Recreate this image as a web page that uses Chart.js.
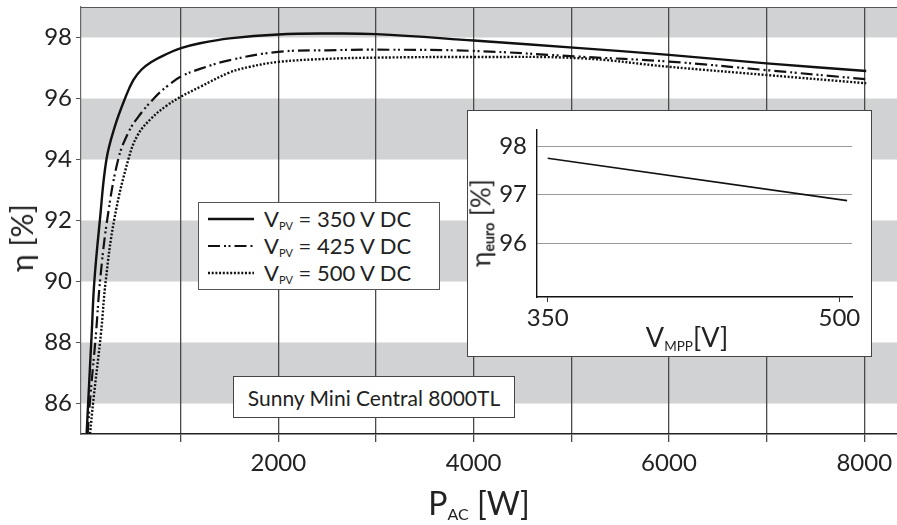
<!DOCTYPE html>
<html>
<head>
<meta charset="utf-8">
<script src="https://cdn.jsdelivr.net/npm/chart.js@4/dist/chart.umd.min.js"></script>
<style>
  html, body { margin:0; padding:0; background:#fff; }
  body { width:897px; height:525px; overflow:hidden; font-family: Lato, "DejaVu Sans", sans-serif; color:#222; }
  #wrap { position:relative; width:897px; height:525px; }
  #main { position:absolute; left:0; top:0; }
  .abs { position:absolute; white-space:nowrap; }
  #ytitle { left:21px; top:238px; font-size:30px; transform:translate(-50%,-50%) rotate(-90deg); }
  #xtitle { left:479px; top:503px; font-size:32px; transform:translate(-50%,-50%); }
  .sub { font-size:0.5em; vertical-align:-0.3em; }
  #legend { left:198px; top:202px; width:242px; height:88px; box-sizing:border-box; border:1px solid #555; background:#fff; }
  .lrow { position:absolute; left:9px; height:26px; display:flex; align-items:center; font-size:22px; }
  .lrow svg { width:46px; height:10px; margin-right:10px; }
  #namebox { left:233px; top:376px; width:282px; height:42px; box-sizing:border-box; border:1px solid #444; background:#fff; font-size:21px; display:flex; align-items:center; justify-content:center; }
  #inset { left:467px; top:110px; width:405px; height:247px; box-sizing:border-box; border:1px solid #444; background:#fff; }
  #ic { position:absolute; left:0; top:0; }
  #iytitle { left:13px; top:112px; font-size:26px; transform:translate(-50%,-50%) rotate(-90deg); }
  #iytitle .sub { font-size:0.55em; font-weight:bold; }
  #ixtitle { left:219px; top:226px; font-size:27px; transform:translate(-50%,-50%); }
</style>
</head>
<body>
<div id="wrap">
  <canvas id="main" width="897" height="525"></canvas>
  <div id="ytitle" class="abs">η [%]</div>
  <div id="xtitle" class="abs">P<span class="sub">AC</span> [W]</div>
  <div id="legend" class="abs"></div>
  <div id="namebox" class="abs">Sunny Mini Central 8000TL</div>
  <div id="inset" class="abs">
    <canvas id="ic" width="403" height="245"></canvas>
    <div id="iytitle" class="abs">η<span class="sub">euro</span> [%]</div>
    <div id="ixtitle" class="abs">V<span class="sub">MPP</span>[V]</div>
  </div>
</div>
<script>
// ---------- data ----------
const seriesNames = ['350 V DC', '425 V DC', '500 V DC'];

const power350 = [37, 54, 89, 116, 174, 240, 328, 430, 515, 600, 700, 850, 1003, 1198, 1500, 2000, 2500, 3000, 4000, 5090, 6000, 7000, 8020];
const eta350   = [85.0, 86.1, 88.3, 90.0, 92.05, 94.0, 95.1, 96.0, 96.6, 96.95, 97.2, 97.45, 97.65, 97.81, 97.97, 98.1, 98.13, 98.11, 97.9, 97.65, 97.43, 97.15, 96.9];

const power425 = [48, 72, 133, 174, 249, 360, 461, 566, 737, 857, 1003, 1198, 1505, 2000, 2500, 3000, 4000, 5090, 6000, 7000, 8020];
const eta425   = [85.0, 86.1, 88.3, 90.0, 92.05, 94.0, 94.86, 95.4, 96.04, 96.39, 96.72, 96.97, 97.26, 97.53, 97.58, 97.6, 97.56, 97.37, 97.21, 96.93, 96.63];

const power500 = [72, 106, 184, 232, 321, 464, 560, 700, 850, 1003, 1198, 1500, 1710, 2000, 2500, 3000, 4000, 5090, 6000, 7000, 8020];
const eta500   = [85.0, 86.1, 88.3, 90.0, 92.05, 94.0, 94.8, 95.35, 95.75, 96.06, 96.38, 96.85, 97.04, 97.2, 97.3, 97.34, 97.36, 97.32, 97.04, 96.77, 96.5];

const grayBands = [[86, 88], [90, 92], [94, 96], [98, 99]];
const xGridValues = [1000, 2000, 3000, 4000, 5000, 6000, 7000, 8000];
const xTickLabels = ['2000', '4000', '6000', '8000'];
const yTickValues = [86, 88, 90, 92, 94, 96, 98];

const insetVoltage = [350, 504];
const insetEtaEuro = [97.75, 96.88];
const insetXTicks = [350, 500];
const insetYTicks = [96, 97, 98];

// ---------- helpers ----------
const FONT = 'Lato, "DejaVu Sans", sans-serif';
const pts = (xs, ys) => xs.map((x, i) => ({x, y: ys[i]}));
const lineStyles = [
  {borderDash: [], borderWidth: 2.4},
  {borderDash: [12, 4, 2, 2.5, 2, 4], borderWidth: 2.2},
  {borderDash: [2, 1.7], borderWidth: 2.4}
];

// legend
const legend = document.getElementById('legend');
seriesNames.forEach((name, i) => {
  const row = document.createElement('div');
  row.className = 'lrow';
  row.style.top = (3 + i * 27) + 'px';
  const dash = lineStyles[i].borderDash.join(' ');
  row.innerHTML = '<svg viewBox="0 0 46 10"><line x1="0" y1="5" x2="46" y2="5" stroke="#111" stroke-width="' +
    lineStyles[i].borderWidth + '"' + (dash ? ' stroke-dasharray="' + dash + '"' : '') + '/></svg>' +
    '<span>V<span class="sub" style="font-size:0.5em">PV</span> = ' + name + '</span>';
  legend.appendChild(row);
});

const bandPlugin = {
  id: 'bands',
  beforeDraw(chart) {
    const {ctx, chartArea: a, scales: {y}} = chart;
    ctx.save();
    ctx.fillStyle = '#fff'; ctx.fillRect(0, 0, chart.width, chart.height);
    ctx.fillStyle = '#d1d2d4';
    grayBands.forEach(([lo, hi]) => {
      const y1 = y.getPixelForValue(Math.min(hi, y.max));
      const y2 = y.getPixelForValue(lo);
      ctx.fillRect(a.left, y1, a.right - a.left, y2 - y1);
    });
    ctx.restore();
  },
  afterDraw(chart) {
    const {ctx, chartArea: a} = chart;
    ctx.save();
    ctx.strokeStyle = '#555'; ctx.lineWidth = 1.2;
    ctx.beginPath(); ctx.moveTo(a.left, a.top + 0.5); ctx.lineTo(a.right, a.top + 0.5); ctx.stroke();
    ctx.restore();
  }
};

function noPad(s) { s.paddingLeft = 0; s.paddingRight = 0; s.paddingTop = 0; s.paddingBottom = 0; }

new Chart(document.getElementById('main'), {
  type: 'line',
  data: {
    datasets: [
      {data: pts(power350, eta350)},
      {data: pts(power425, eta425)},
      {data: pts(power500, eta500)}
    ].map((d, i) => Object.assign(d, {
      label: seriesNames[i],
      borderColor: '#111',
      borderWidth: lineStyles[i].borderWidth,
      borderDash: lineStyles[i].borderDash,
      pointRadius: 0,
      fill: false,
      tension: 0.4
    }))
  },
  options: {
    responsive: false,
    animation: false,
    devicePixelRatio: 1,
    layout: {padding: {top: 7, left: 0, right: 0, bottom: 0}},
    plugins: {legend: {display: false}, tooltip: {enabled: false}},
    scales: {
      x: {
        type: 'linear',
        min: -20.5, max: 8335,
        afterFit(s) { s.height = 91; noPad(s); },
        afterBuildTicks(s) { s.ticks = xGridValues.map(v => ({value: v})); },
        ticks: {
          autoSkip: false, maxRotation: 0,
          padding: 7, color: '#222', font: {family: FONT, size: 24},
          callback: v => xTickLabels.includes(String(v)) ? String(v) : ''
        },
        grid: {drawOnChartArea: true, tickLength: 8, lineWidth: 1.3, color: '#4a4a4a'},
        border: {display: true, color: '#222', width: 1.6}
      },
      y: {
        type: 'linear',
        min: 85, max: 99,
        afterFit(s) { s.width = 81; noPad(s); },
        afterBuildTicks(s) { s.ticks = yTickValues.map(v => ({value: v})); },
        ticks: {padding: 4, color: '#222', font: {family: FONT, size: 24}},
        grid: {drawOnChartArea: false, tickLength: 5, color: '#555', lineWidth: 1},
        border: {display: true, color: '#666', width: 1.2}
      }
    }
  },
  plugins: [bandPlugin]
});

// ---------- inset ----------
new Chart(document.getElementById('ic'), {
  type: 'line',
  data: {datasets: [{
    data: pts(insetVoltage, insetEtaEuro),
    borderColor: '#111', borderWidth: 1.6, pointRadius: 0, fill: false
  }]},
  options: {
    responsive: false,
    animation: false,
    devicePixelRatio: 1,
    layout: {padding: {top: 19, right: 19, left: 0, bottom: 0}},
    plugins: {legend: {display: false}, tooltip: {enabled: false}},
    scales: {
      x: {
        type: 'linear', min: 344.5, max: 506.5,
        afterFit(s) { s.height = 59; noPad(s); },
        afterBuildTicks(s) { s.ticks = insetXTicks.map(v => ({value: v})); },
        ticks: {padding: 2, color: '#222', font: {family: FONT, size: 24}, maxRotation: 0, autoSkip: false},
        grid: {drawOnChartArea: false, tickLength: 5, color: '#333', lineWidth: 1},
        border: {display: true, color: '#111', width: 1.4}
      },
      y: {
        type: 'linear', min: 94.9, max: 98.33,
        afterFit(s) { s.width = 69; noPad(s); },
        afterBuildTicks(s) { s.ticks = insetYTicks.map(v => ({value: v})); },
        ticks: {padding: 10, color: '#222', font: {family: FONT, size: 24}},
        grid: {drawOnChartArea: true, drawTicks: false, tickLength: 0, color: '#9a9a9a', lineWidth: 1},
        border: {display: true, color: '#111', width: 1.4}
      }
    }
  }
});
</script>
</body>
</html>
